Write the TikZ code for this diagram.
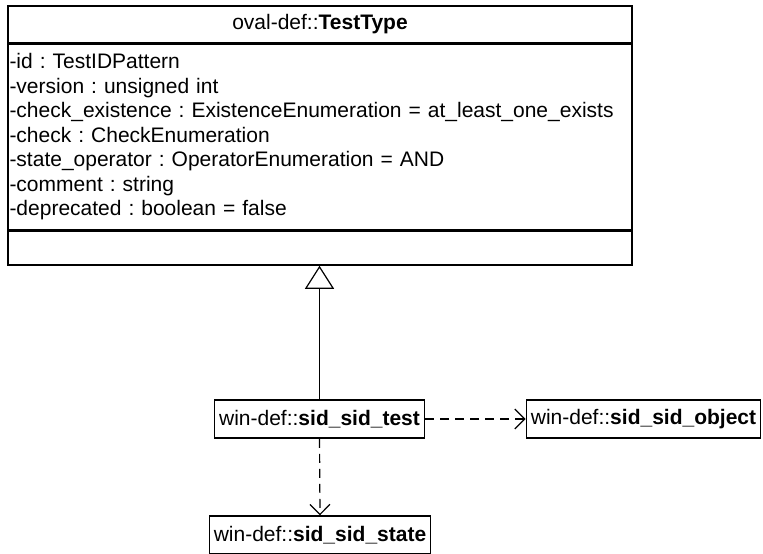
\documentclass[tikz,border=0pt]{standalone}
\usepackage{fontspec}
\setmainfont{Liberation Sans}
\usetikzlibrary{positioning,arrows.meta}
\begin{document}
\frenchspacing
\begin{tikzpicture}[x=1pt,y=1pt,
  font=\fontsize{21}{24.5}\selectfont,
  box/.style={draw,line width=1.5pt,inner xsep=4.5pt,inner ysep=0pt,minimum height=38pt},
  part/.style={draw,line width=1.5pt,minimum width=624pt,inner sep=0pt},
  gen/.style={line width=1.2pt,-{Triangle[open,length=23pt,width=29pt,line width=1.2pt]}},
  dep/.style={line width=1.2pt,dash pattern=on 9pt off 6pt,-{Straight Barb[length=10pt,width=20pt,line width=1.2pt]}}]
  \useasboundingbox (0,0) rectangle (763,-554);
  \node[part,minimum height=37pt] (hdr) at (320,-24.5) {oval-def::\textbf{TestType}};
  \node[part,minimum height=185pt,text width=621pt,align=left,below=0pt of hdr] (attrs)
    {-id : TestIDPattern\\
     -version : unsigned int\\
     -check\_existence : ExistenceEnumeration = at\_least\_one\_exists\\
     -check : CheckEnumeration\\
     -state\_operator : OperatorEnumeration = AND\\
     -comment : string\\
     -deprecated : boolean = false};
  \node[part,minimum height=34pt,below=0pt of attrs] (ops) {};
  \node[box] (test) at (319.5,-419) {win-def::\textbf{sid\_sid\_test}};
  \node[box] (object) at (643.5,-419) {win-def::\textbf{sid\_sid\_object}};
  \node[box] (state) at (320,-535) {win-def::\textbf{sid\_sid\_state}};
  \draw[gen] (test.north) -- (test.north |- ops.south);
  \draw[dep] (test.east) -- (object.west);
  \draw[dep] (test.south) -- (state.north);
\end{tikzpicture}
\end{document}
